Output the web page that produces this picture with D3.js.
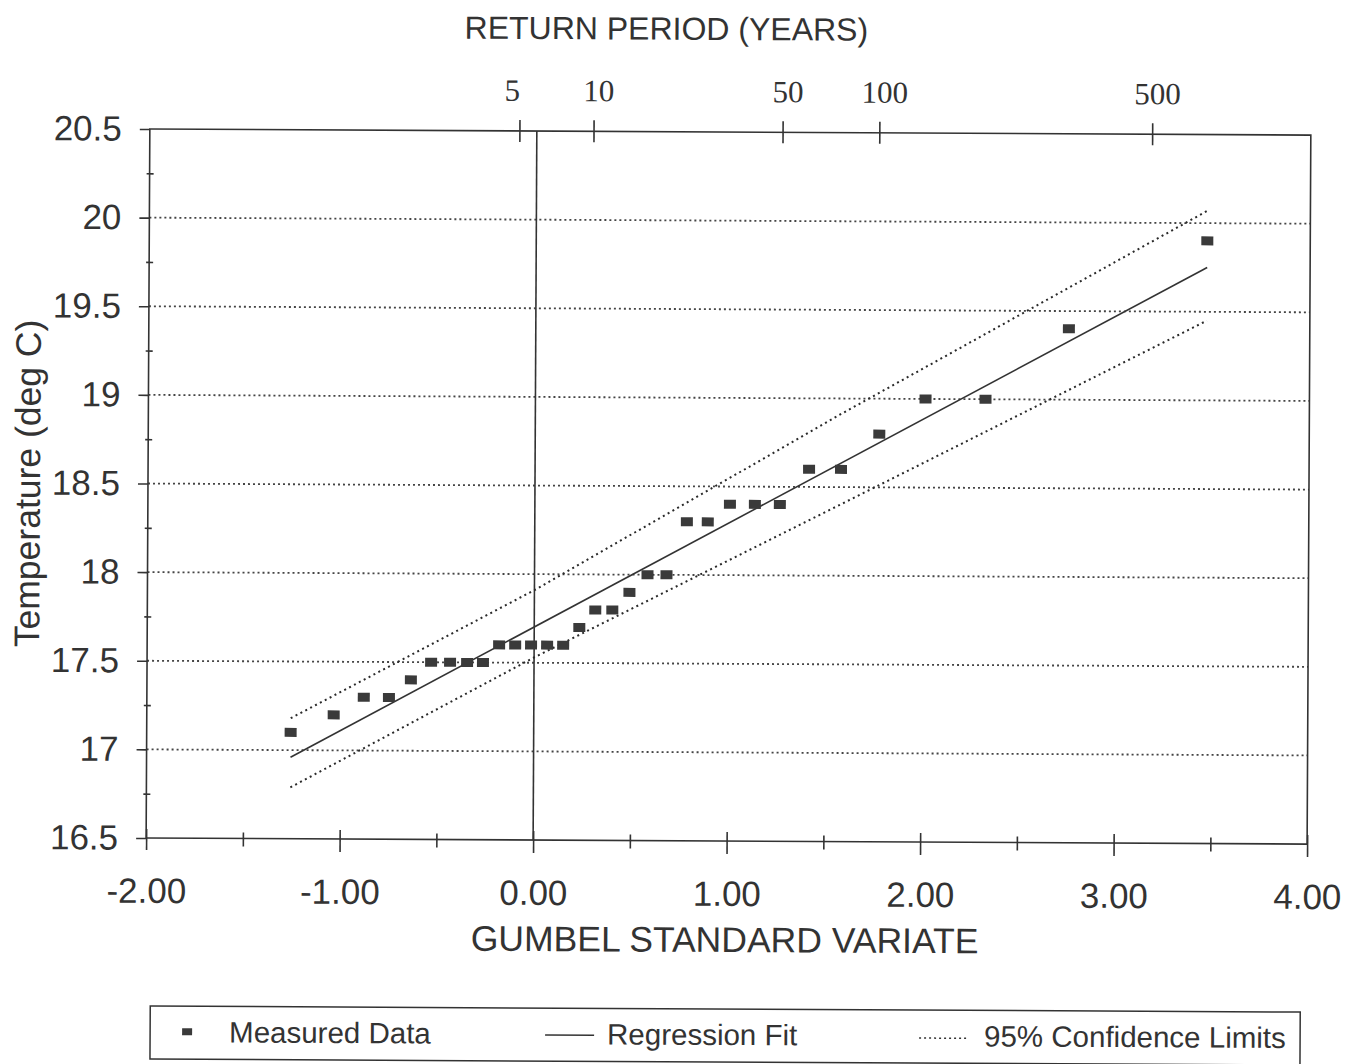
<!DOCTYPE html>
<html>
<head>
<meta charset="utf-8">
<script src="https://cdn.jsdelivr.net/npm/d3@7"></script>
<style>
  body { margin: 0; background: #fff; }
  svg text { font-family: "Liberation Sans", Arial, sans-serif; fill: #333; }
</style>
</head>
<body>
<svg id="chart"></svg>
<script>
// measured data (gumbel standard variate, temperature)
const gumbelX = [-1.256, -1.034, -0.879, -0.749, -0.636, -0.532, -0.434, -0.346, -0.264, -0.181,
                 -0.098, -0.016, 0.067, 0.150, 0.233, 0.315, 0.403, 0.491, 0.584, 0.682,
                 0.786, 0.894, 1.008, 1.137, 1.266, 1.416, 1.581, 1.778, 2.016, 2.326, 2.755, 3.468];
const temps = [17.1, 17.2, 17.3, 17.3, 17.4, 17.5, 17.5, 17.5, 17.5, 17.6,
               17.6, 17.6, 17.6, 17.6, 17.7, 17.8, 17.8, 17.9, 18.0, 18.0,
               18.3, 18.3, 18.4, 18.4, 18.4, 18.6, 18.6, 18.8, 19.0, 19.0, 19.4, 19.9];

// regression fit and 95% confidence limits
const regX = [-1.256, 3.468];
const regY = [16.96, 19.75];
const confX = [-1.256, 0, 1.576, 3.468];
const upperY = [17.18, 17.91, 18.91, 20.07];
const lowerY = [16.79, 17.53, 18.40, 19.45];

// top axis: return period ticks (placed on the variate scale)
const returnPeriods = ["5", "10", "50", "100", "500"];
const returnPos = [-0.09, 0.293, 1.27, 1.77, 3.18];

// axis ticks
const xTicks = d3.range(-2, 4.001, 0.5);
const yTicks = d3.range(16.5, 20.501, 0.25);
const yGrid = [17, 17.5, 18, 18.5, 19, 19.5, 20];

const width = 1345, height = 1064;
const margin = { left: 148, right: 36, top: 129, bottom: 226 };

const svg = d3.select("#chart")
    .attr("width", width)
    .attr("height", height);

// the scanned page is tilted a little
const g = svg.append("g")
    .attr("transform", "rotate(0.3, 148, 480)");

const x = d3.scaleLinear()
    .domain([-2, 4])
    .range([margin.left, width - margin.right]);
const y = d3.scaleLinear()
    .domain([16.5, 20.5])
    .range([height - margin.bottom, margin.top]);

const ink = "#333";

// dotted gridlines
g.selectAll(".grid")
    .data(yGrid)
    .join("line")
    .attr("class", "grid")
    .attr("x1", x(-2)).attr("x2", x(4))
    .attr("y1", d => y(d)).attr("y2", d => y(d))
    .attr("stroke", "#444")
    .attr("stroke-width", 1.8)
    .attr("stroke-dasharray", "2,3");

// frame
g.append("rect")
    .attr("x", x(-2)).attr("y", y(20.5))
    .attr("width", x(4) - x(-2))
    .attr("height", y(16.5) - y(20.5))
    .attr("fill", "none")
    .attr("stroke", ink)
    .attr("stroke-width", 1.6);

// vertical line at zero
g.append("line")
    .attr("x1", x(0)).attr("x2", x(0))
    .attr("y1", y(20.5)).attr("y2", y(16.5))
    .attr("stroke", ink)
    .attr("stroke-width", 1.6);

// bottom axis
const xAxis = d3.axisBottom(x)
    .tickValues(xTicks)
    .tickFormat(d => Number.isInteger(d) ? d.toFixed(2) : "")
    .tickSize(14)
    .tickPadding(26);
const gx = g.append("g")
    .attr("transform", "translate(0," + y(16.5) + ")")
    .call(xAxis);
gx.select(".domain").remove();
gx.selectAll(".tick line")
    .attr("stroke", ink).attr("stroke-width", 1.6)
    .attr("y1", d => Number.isInteger(d) ? -9 : -6)
    .attr("y2", d => d === -2 ? 12 : (Number.isInteger(d) ? 13 : 8));
gx.selectAll(".tick text")
    .style("font-size", "35px")
    .attr("fill", ink);

// left axis
const yAxis = d3.axisLeft(y)
    .tickValues(yTicks)
    .tickFormat(d => (d * 2) % 1 === 0 ? String(d) : "")
    .tickSize(10)
    .tickPadding(18);
const gy = g.append("g")
    .attr("transform", "translate(" + x(-2) + ",0)")
    .call(yAxis);
gy.select(".domain").remove();
gy.selectAll(".tick line")
    .attr("stroke", ink).attr("stroke-width", 1.6)
    .attr("x1", d => (d * 2) % 1 === 0 ? 0 : 4)
    .attr("x2", d => (d * 2) % 1 === 0 ? -10 : -3);
gy.selectAll(".tick text")
    .style("font-size", "35px")
    .attr("fill", ink);

// top axis (return period)
const topAxis = d3.axisTop(x)
    .tickValues(returnPos)
    .tickFormat((d, i) => returnPeriods[i])
    .tickSize(11)
    .tickPadding(19);
const gt = g.append("g")
    .attr("transform", "translate(0," + y(20.5) + ")")
    .call(topAxis);
gt.select(".domain").remove();
gt.selectAll(".tick line")
    .attr("stroke", ink).attr("stroke-width", 1.6)
    .attr("y1", 11);
gt.selectAll(".tick text")
    .style("font-family", "'Liberation Serif', 'Times New Roman', serif")
    .style("font-size", "31px")
    .attr("dx", (d, i) => i === 0 ? "-0.25em" : "0.15em")
    .attr("fill", ink);

// confidence limits
const line = d3.line()
    .x(d => x(d[0]))
    .y(d => y(d[1]));

[upperY, lowerY].forEach(ys => {
    g.append("path")
        .attr("d", line(d3.zip(confX, ys)))
        .attr("fill", "none")
        .attr("stroke", "#2a2a2a")
        .attr("stroke-width", 2)
        .attr("stroke-dasharray", "2,3.5");
});

// regression fit
g.append("path")
    .attr("d", line(d3.zip(regX, regY)))
    .attr("fill", "none")
    .attr("stroke", ink)
    .attr("stroke-width", 1.6);

// measured data
g.selectAll(".pt")
    .data(d3.zip(gumbelX, temps))
    .join("rect")
    .attr("class", "pt")
    .attr("x", d => x(d[0]) - 6)
    .attr("y", d => y(d[1]) - 4.5)
    .attr("width", 12)
    .attr("height", 9)
    .attr("fill", "#3a3a3a");

// titles
g.append("text")
    .attr("x", 664).attr("y", 37)
    .attr("text-anchor", "middle")
    .style("font-size", "32px")
    .text("RETURN PERIOD (YEARS)");

g.append("text")
    .attr("x", 727).attr("y", 949)
    .attr("text-anchor", "middle")
    .style("font-size", "35.5px")
    .text("GUMBEL STANDARD VARIATE");

g.append("text")
    .attr("transform", "translate(40,484) rotate(-90)")
    .attr("text-anchor", "middle")
    .style("font-size", "35.5px")
    .text("Temperature (deg C)");

// legend
const lg = g.append("g");
lg.append("rect")
    .attr("x", 153).attr("y", 1006)
    .attr("width", 1150).attr("height", 53)
    .attr("fill", "none")
    .attr("stroke", ink)
    .attr("stroke-width", 1.5);
lg.append("rect")
    .attr("x", 185).attr("y", 1028)
    .attr("width", 10).attr("height", 7)
    .attr("fill", "#3a3a3a");
lg.append("text").attr("x", 232).attr("y", 1042)
    .style("font-size", "29.5px").text("Measured Data");
lg.append("line")
    .attr("x1", 548).attr("x2", 597)
    .attr("y1", 1033).attr("y2", 1033)
    .attr("stroke", ink).attr("stroke-width", 1.5);
lg.append("text").attr("x", 610).attr("y", 1042)
    .style("font-size", "29.5px").text("Regression Fit");
lg.append("line")
    .attr("x1", 922).attr("x2", 970)
    .attr("y1", 1034).attr("y2", 1034)
    .attr("stroke", ink).attr("stroke-width", 1.5)
    .attr("stroke-dasharray", "2,3");
lg.append("text").attr("x", 987).attr("y", 1042)
    .style("font-size", "29.5px").text("95% Confidence Limits");
</script>
</body>
</html>
